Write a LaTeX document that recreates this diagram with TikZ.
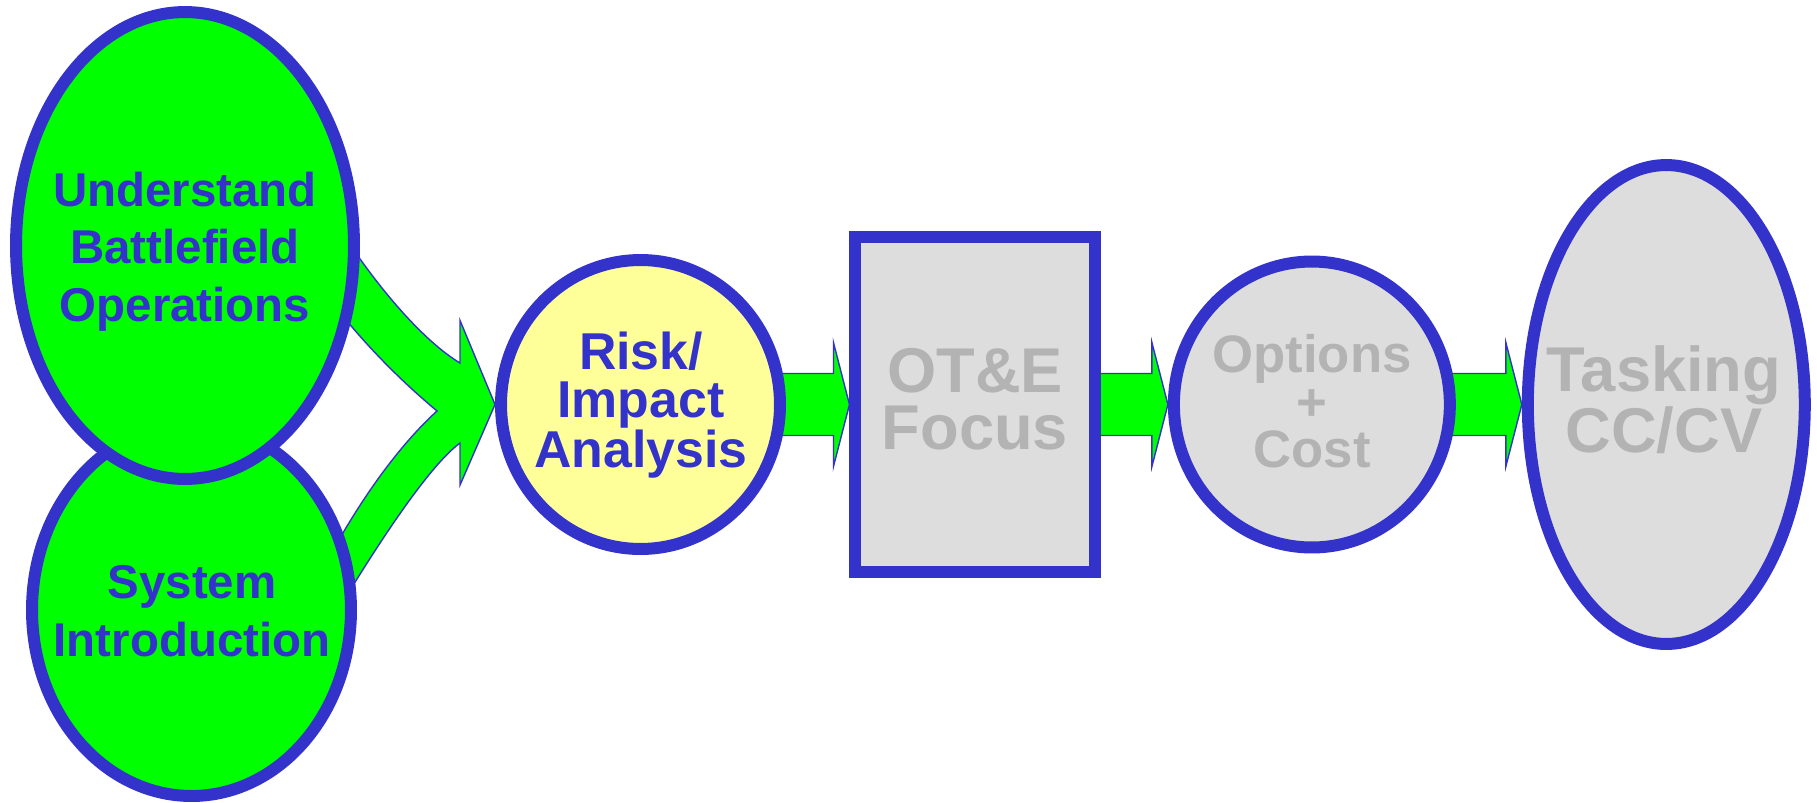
\documentclass[tikz,border=0pt]{standalone}
\usepackage{fontspec}
\setmainfont{Liberation Sans}
\usetikzlibrary{shapes.geometric, backgrounds}
\definecolor{ovalblue}{RGB}{51,51,204}
\definecolor{flowgreen}{RGB}{0,255,0}
\definecolor{paleyellow}{RGB}{255,255,153}
\definecolor{lightgrey}{RGB}{221,221,221}
\definecolor{textgrey}{RGB}{179,179,179}
\tikzstyle{greenoval} = [ellipse, draw=ovalblue, line width=0.24cm, fill=flowgreen]
\tikzstyle{yellowoval} = [ellipse, draw=ovalblue, line width=0.24cm, fill=paleyellow, minimum width=5.58cm, minimum height=5.78cm]
\tikzstyle{greyoval} = [ellipse, draw=ovalblue, line width=0.24cm, fill=lightgrey]
\tikzstyle{greybox} = [rectangle, draw=ovalblue, line width=0.24cm, fill=lightgrey, minimum width=4.8cm, minimum height=6.7cm]
\tikzstyle{bluetext} = [text=ovalblue, align=center, inner sep=0pt]
\tikzstyle{greytext} = [text=textgrey, align=center, inner sep=0pt]
\tikzstyle{arrow} = [draw=ovalblue, line width=0.8pt, fill=flowgreen, line join=miter]

\begin{document}
\begin{tikzpicture}[x=0.02cm, y=-0.02cm, node distance=6.7cm]
		\useasboundingbox (0,0) rectangle (1817,802);
		% Nodes
		\node (sysintro) [greenoval, minimum width=6.38cm, minimum height=7.44cm] at (191.5,610) {};
		\node (under) [greenoval, minimum width=6.76cm, minimum height=9.34cm] at (185,245.5) {};
		\node (risk) [yellowoval] at (640.5,404.5) {};
		\node (ote) [greybox, right of = risk] {};
		\node (options) [greyoval, right of = ote, xshift = 0.03cm, minimum width=5.52cm, minimum height=5.72cm] {};
		\node (tasking) [greyoval, right of = options, xshift = 0.39cm, minimum width=5.54cm, minimum height=9.58cm] {};
		% Texts
		\node (undertxt) [bluetext, font={\bfseries\fontsize{27}{32.7}\selectfont}] at (185,251.5) {Understand\\Battlefield\\Operations};
		\node (systxt) [bluetext, font={\bfseries\fontsize{27}{32.7}\selectfont}] at (192,611) {System\\Introduction};
		\node (risktxt) [bluetext, font={\bfseries\fontsize{29.5}{27.3}\selectfont}] at (641,405.5) {Risk/\\Impact\\Analysis};
		\node (otetxt) [greytext, font={\bfseries\fontsize{36}{32.4}\selectfont}] at (975,399.5) {OT\&E\\Focus};
		\node (optionstxt) [greytext, font={\bfseries\fontsize{30}{27}\selectfont}] at (1312,401.5) {Options\\+\\Cost};
		\node (taskingtxt) [greytext, font={\bfseries\fontsize{36}{32.4}\selectfont}] at (1664,400) {Tasking\\CC/CV};
		% Arrows
		\begin{scope}[on background layer]
		\draw [arrow] ([shift={(150,-23.5)}]under.center) .. controls +(50,78) and +(-30,-18) .. ([shift={(-35,-41.5)}]risk.west) -- ([shift={(-35,-84)}]risk.west) -- (risk.west) -- ([shift={(-35,80.5)}]risk.west) -- ([shift={(-35,38.5)}]risk.west) .. controls +(-30,22) and +(45,-75) .. ([shift={(143.5,5)}]sysintro.center) -- ([shift={(133.5,-45)}]sysintro.center) .. controls +(40,-75) and +(-32,29) .. ([shift={(-58,6.5)}]risk.west) .. controls +(-37,-31) and +(35,45) .. ([shift={(145,54.5)}]under.center) -- cycle;
		\draw [arrow] ([shift={(-4,-31)}]risk.east) -- ([shift={(-16,-31)}]ote.west) -- ([shift={(-16,-62)}]ote.west) -- (ote.west) -- ([shift={(-16,62)}]ote.west) -- ([shift={(-16,31)}]ote.west) -- ([shift={(-4,31)}]risk.east) -- cycle;
		\draw [arrow] ([shift={(-4,-31)}]ote.east) -- ([shift={(-16,-31)}]options.west) -- ([shift={(-16,-62)}]options.west) -- (options.west) -- ([shift={(-16,62)}]options.west) -- ([shift={(-16,31)}]options.west) -- ([shift={(-4,31)}]ote.east) -- cycle;
		\draw [arrow] ([shift={(-4,-31)}]options.east) -- ([shift={(-16,-31)}]tasking.west) -- ([shift={(-16,-62)}]tasking.west) -- (tasking.west) -- ([shift={(-16,62)}]tasking.west) -- ([shift={(-16,31)}]tasking.west) -- ([shift={(-4,31)}]options.east) -- cycle;
		\end{scope}
	\end{tikzpicture}
\end{document}
